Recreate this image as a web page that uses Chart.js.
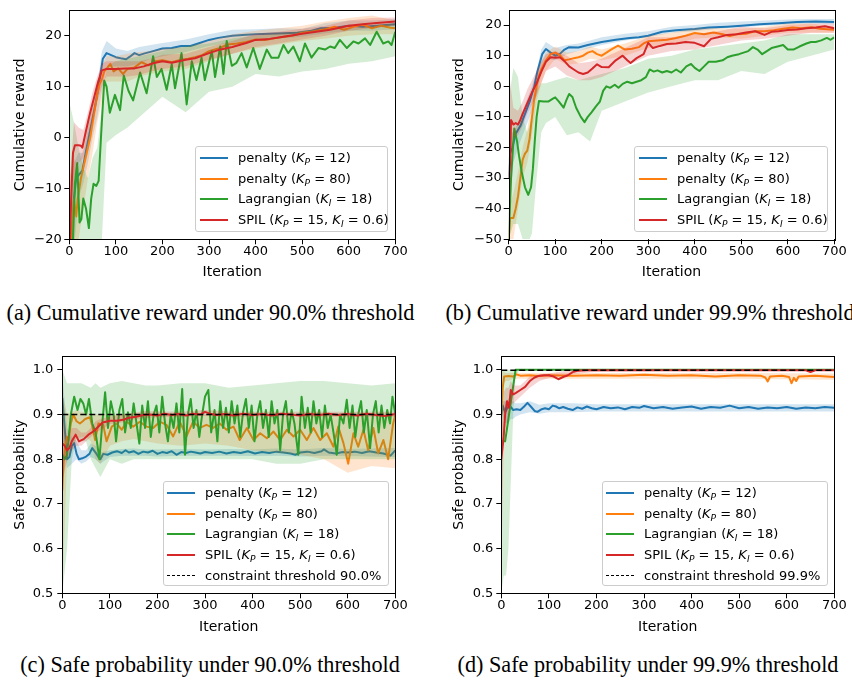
<!DOCTYPE html>
<html>
<head>
<meta charset="utf-8">
<script src="https://cdn.jsdelivr.net/npm/chart.js@4.4.1/dist/chart.umd.min.js"></script>
<style>
  body { margin: 0; background: #fff; width: 852px; height: 681px; position: relative; overflow: hidden; font-family: 'DejaVu Sans'; }
  canvas { position: absolute; }
  .legend { position: absolute; background: rgba(255,255,255,0.8); border: 1px solid #ccc; border-radius: 3px; box-sizing: border-box; font-size: 13px; color: #000; z-index: 2; }
  .legend .row { position: absolute; left: 0; right: 0; height: 20px; line-height: 20px; white-space: nowrap; }
  .legend .swatch { position: absolute; top: 9px; width: 28px; height: 0; }
  .legend .txt { position: absolute; top: 0; }
  .legend sub { font-size: 70%; vertical-align: -3px; line-height: 0; }
  .cap { position: absolute; transform: translateX(-50%); white-space: nowrap; font-family: 'Liberation Serif'; font-size: 22.2px; line-height: 1; color: #000; }
</style>
</head>
<body>
<canvas id="ca" width="420" height="290" style="left:0;top:0"></canvas>
<canvas id="cb" width="422" height="290" style="left:430px;top:0"></canvas>
<canvas id="cc" width="420" height="300" style="left:0;top:340px"></canvas>
<canvas id="cd" width="422" height="300" style="left:430px;top:340px"></canvas>
<script>
// ---- data ----
const xTicks = [0, 100, 200, 300, 400, 500, 600, 700];
const rewardTicksA = [-20, -10, 0, 10, 20];
const rewardTicksB = [-50, -40, -30, -20, -10, 0, 10, 20];
const probTicks = [0.5, 0.6, 0.7, 0.8, 0.9, 1.0];
const seriesLabels = [
  'penalty (<i>K</i><sub><i>P</i></sub> = 12)',
  'penalty (<i>K</i><sub><i>P</i></sub> = 80)',
  'Lagrangian (<i>K</i><sub><i>I</i></sub> = 18)',
  'SPIL (<i>K</i><sub><i>P</i></sub> = 15, <i>K</i><sub><i>I</i></sub> = 0.6)'
];
const thresholdLabels = ['constraint threshold 90.0%', 'constraint threshold 99.9%'];
const thresholdValues = [0.9, 0.999];
const captions = [
  '(a) Cumulative reward under 90.0% threshold',
  '(b) Cumulative reward under 99.9% threshold',
  '(c) Safe probability under 90.0% threshold',
  '(d) Safe probability under 99.9% threshold'
];

// (a) cumulative reward, 90.0%
const aBlue = [[0,-28],[5,-22],[10,-12],[15,-8],[20,-7.4],[28,-6.5],[35,-3],[45,1.5],[55,6],[63,10],[72,15.5],[80,16.6],[90,16.2],[100,15.8],[110,15.6],[122,15.4],[130,15.9],[140,16.6],[150,16.2],[160,16.5],[180,17],[200,17.5],[220,17.6],[240,18],[260,18],[280,18.6],[300,19.2],[320,19.6],[350,20],[380,20.2],[400,20.3],[430,20.4],[460,20.5],[490,20.6],[520,21],[540,21.5],[570,21.6],[600,22],[630,21.8],[660,22],[700,22.3]];
const aOrange = [[0,-22],[5,-19],[10,-12.2],[15,-15.5],[18,-12],[25,-8],[35,-4],[45,0],[52,4],[60,8.5],[65,10.5],[70,11.5],[75,13],[80,13.5],[88,14.5],[95,13],[105,13.6],[115,12.5],[125,13.5],[140,13.8],[155,14.8],[170,14.2],[185,15],[200,15.2],[220,14.8],[240,15.3],[255,15.5],[270,15.8],[285,16.2],[300,17],[320,17.5],[340,18.3],[360,18.5],[380,18.8],[400,19.3],[420,19.2],[440,19.5],[460,19.8],[480,20],[500,20.6],[520,20.8],[550,21.3],[570,21.8],[590,21.2],[610,21.8],[630,22.2],[650,21.5],[670,22],[690,21.6],[700,21.5]];
const aGreen = [[0,-28],[8,-20],[12,-9],[17,-5],[22,-16.7],[26,-16],[30,-12],[36,-14],[42,-17.8],[47,-12],[52,-9.1],[58,-9.5],[63,-8.5],[68,0],[75,11.2],[80,10],[87,4.9],[98,8.4],[109,5.4],[117,12.2],[127,9.2],[137,7.3],[152,12.8],[166,8.7],[180,16],[188,11.9],[198,13.5],[209,9.4],[220,14.4],[227,9.7],[241,16.6],[252,6.5],[263,15],[273,11.3],[284,15.7],[291,11.3],[306,17],[313,11.9],[324,17.9],[331,12.5],[338,19],[349,14.1],[359,14.7],[370,16.6],[381,13.8],[395,17.6],[409,13.5],[424,17.3],[434,15.7],[449,15.7],[460,18.2],[470,16.6],[481,17.9],[495,15],[506,18.5],[520,15.7],[535,17.6],[549,17.3],[560,17.9],[570,17.6],[581,19.2],[596,17.6],[610,18.9],[621,18.5],[635,19.5],[646,18.2],[660,20.8],[674,18.5],[685,18.9],[692,18.2],[700,20.8]];
const aRed = [[0,-25],[4,-12],[8,-3],[12,-1.5],[20,-1.5],[25,-1.6],[28,-2],[35,1],[45,5],[55,8.5],[62,11],[70,13.2],[80,13.5],[100,13.5],[120,13.6],[140,13.6],[160,14],[180,14.6],[200,15],[220,14.7],[250,15.3],[270,15.6],[300,16.6],[320,17.2],[350,17.8],[380,18.6],[400,19.2],[430,19.4],[460,19.8],[500,20.4],[530,20.8],[560,21.2],[600,22],[630,22.3],[660,22.5],[700,22.8]];
const aBandX = [0,10,20,30,40,50,60,70,80,100,125,150,175,200,250,300,350,400,450,500,550,600,650,700];
const aBlueLo = [-35,-22,-12,-9,-5,0,4,9,14,14,14,14.5,15.5,16,16.8,18,18.7,19.2,19.5,19.8,20.5,21,21,21.3];
const aBlueHi = [-15,-5,-3,-3,2,6,10,17,19,17.5,17,17.8,18.2,18.6,19.3,20.3,21.2,21.3,21.5,21.4,22.5,23,23,23.3];
const aOrangeLo = [-30,-22,-20,-14,-8,-3,3,7,11,11,11,12,12.5,13,13.5,15,16.5,17.5,18.3,19,19.5,20,20.3,20.3];
const aOrangeHi = [-8,-4,-6,-2,4,7,10,14,16,16,16.5,16.8,17,17.5,17.8,19,20.3,21,21.5,22,22.8,23.5,24,23];
const aGreenLo = [-30,-30,-30,-30,-30,-30,-28,-20,-1,0.5,2,4,6,8,5,9,10,12.5,12,13,13.5,14.5,15,16];
const aGreenHi = [7,3,-2,-6,-8,-4,-2,6,14,15,15.5,16,16.5,17,18,18.5,19.5,20,20.5,21,21.5,21.5,22,22.5];
const aRedLo = [-30,-8,-5,-4,0,3,7,10,12,12,12,12.3,13,13.5,14,15.3,16.5,17.8,18.5,19.3,20,21,21.5,22];
const aRedHi = [-10,3,2,1.5,5,9,12,14.5,15,15,15,15,15.5,16.3,16.5,17.8,19,20.4,20.8,21.4,22,23,23.5,23.6];

// (b) cumulative reward, 99.9%
const bBlue = [[0,-30],[3,-22],[8,-20],[15,-15.5],[25,-13],[35,-9],[45,-5],[55,0],[62,5],[72,10.5],[80,12.2],[90,11],[100,10],[110,10.6],[120,12],[130,12.8],[150,12.7],[170,13.5],[200,14.5],[230,15.2],[260,15.8],[280,16],[300,16.5],[330,17.8],[360,18.3],[400,18.7],[430,19.2],[470,19.5],[500,19.8],[540,20.3],[580,20.6],[620,21],[660,21.2],[700,21]];
const bOrange = [[0,-50],[3,-43],[10,-43],[15,-40],[20,-36],[25,-30],[30,-24],[35,-22],[40,-21],[45,-17],[50,-10],[55,-4],[60,0],[65,3.5],[70,5.5],[80,8.5],[90,10.5],[100,11],[110,10.2],[120,8.5],[130,8.8],[140,9.2],[150,9.5],[160,10],[170,11],[180,11.5],[190,10.5],[200,10],[210,11],[220,12],[235,13.3],[250,12],[265,12.3],[280,12.8],[290,14],[300,14.7],[320,15],[340,15.2],[360,15.8],[380,16.5],[400,17.4],[420,17],[440,17.6],[460,17],[475,16.4],[490,17],[510,17.2],[530,18],[550,18],[570,18.3],[590,18.8],[610,19.2],[630,19],[650,19.3],[670,18.8],[700,18.5]];
const bGreen = [[0,-50],[5,-30],[12,-13.8],[18,-18],[22,-22.5],[28,-28],[35,-33],[42,-35.5],[48,-33],[52,-27],[56,-18],[60,-10],[65,-4.8],[75,-5],[85,-5],[95,-4],[100,-3.6],[108,-5],[118,-7],[124,-4.5],[130,-2.5],[137,-3.5],[145,-7],[155,-10],[163,-11.7],[170,-10],[178,-8.5],[188,-6.5],[196,-5],[203,-1.5],[210,0],[218,-0.5],[228,0.5],[236,-0.5],[245,0.8],[255,1.5],[265,1],[275,1.5],[285,2],[295,3],[303,5.5],[312,4.8],[320,5.2],[330,4.5],[340,5],[350,4.5],[360,5.5],[370,4.5],[382,6.5],[392,7.3],[400,6],[410,5],[420,6.5],[430,8],[445,8],[460,8.5],[470,9.5],[480,10],[495,10.5],[505,11],[515,11.5],[525,12.8],[535,12],[545,10.5],[555,11.5],[565,12.5],[578,13],[590,13.5],[600,12],[612,12],[625,13],[640,14],[650,14.5],[660,14.5],[672,15],[684,15.8],[692,15.2],[700,16]];
const bRed = [[0,-30],[3,-25],[5,-11],[10,-12.5],[15,-12],[20,-12.5],[25,-11],[30,-9],[40,-5.5],[50,-2],[60,1],[70,4.7],[80,8],[90,9.5],[100,9.3],[110,9.5],[120,8.2],[130,6.5],[140,5.5],[150,4.5],[160,4],[170,4.5],[180,5.8],[190,7.2],[200,6.3],[215,6.2],[230,8.5],[245,10],[255,8.5],[262,7.6],[275,9.2],[290,10.5],[300,14.2],[310,12.5],[325,13.2],[340,13.8],[360,14],[380,14.5],[400,14.2],[420,13.1],[435,15.5],[450,16],[470,16.8],[490,17],[510,17.6],[530,18],[550,16.8],[565,17.8],[580,18],[600,18.4],[620,18.6],[640,19],[660,19.2],[680,19.6],[700,19]];
const bBandX = [0,10,20,30,40,50,60,70,80,100,125,150,175,200,250,300,350,400,450,500,550,600,650,700];
const bBlueLo = [-45,-25,-20,-16,-12,-8,-3,4,9,8.5,10.5,11.5,12.5,13.5,15,16,17.5,18,18.8,19.3,19.8,20.2,20.5,20.3];
const bBlueHi = [-15,-15,-12,-8,-4,0,5,12,14.5,12.5,13.5,14,15,16,17.2,18,19.5,20,20.8,21.2,21.5,21.8,22,22];
const bOrangeLo = [-55,-50,-40,-30,-25,-16,-5,1,5,9,7,7.5,9,8.5,10,12.5,13.5,15.5,16,15.5,16.5,17.5,17.5,17.5];
const bOrangeHi = [-40,-35,-28,-20,-14,-5,3,8,11,13,11,11.5,13,12,14,16.5,17.5,19,19,18.8,19.5,20.5,20.5,19.5];
const bGreenLo = [-50,-45,-45,-50,-52,-48,-30,-15,-12,-10,-16,-15,-18,-8,-5,-2,0,2,2,5,4,8,10,12];
const bGreenHi = [-5,6,3,-10,-15,-10,-1,1,1,2,3,2,3,4,6,9,10,12,13,14,15,17,17,17];
const bRedLo = [-48,-17,-16,-13,-9,-6,-3,1,5,6.5,3.5,2,2,3,6.5,10,11.5,12,13.5,15,15.5,16.5,17.5,17.5];
const bRedHi = [5,-7,-8,-5,-1,2,5,8,10.5,11.5,10,7.5,8,9,12.5,16,16,17,18,19.5,19,20,20.5,20.5];

// (c) safe probability, 90.0%
const cBlue = [[0,0.937],[5,0.87],[10,0.80],[15,0.805],[20,0.83],[25,0.836],[30,0.812],[35,0.80],[42,0.802],[50,0.806],[57,0.812],[63,0.825],[70,0.815],[76,0.805],[80,0.80],[86,0.812],[95,0.81],[105,0.815],[115,0.818],[125,0.814],[133,0.82],[140,0.815],[150,0.818],[160,0.812],[170,0.817],[180,0.815],[190,0.819],[200,0.812],[210,0.816],[220,0.814],[230,0.818],[240,0.81],[250,0.816],[260,0.814],[270,0.817],[280,0.815],[290,0.813],[300,0.816],[315,0.814],[330,0.817],[345,0.813],[360,0.816],[375,0.814],[390,0.818],[405,0.813],[420,0.816],[435,0.814],[450,0.817],[465,0.815],[480,0.813],[490,0.81],[500,0.815],[515,0.817],[530,0.814],[545,0.818],[550,0.822],[560,0.815],[575,0.813],[590,0.816],[600,0.815],[615,0.817],[630,0.814],[645,0.818],[660,0.815],[675,0.813],[690,0.808],[700,0.82]];
const cOrange = [[0,0.73],[3,0.8],[6,0.832],[10,0.85],[13,0.843],[18,0.88],[23,0.9],[30,0.885],[37,0.88],[43,0.885],[48,0.89],[58,0.894],[64,0.87],[69,0.843],[76,0.88],[86,0.877],[93,0.84],[104,0.873],[114,0.88],[125,0.866],[135,0.884],[149,0.873],[163,0.884],[177,0.873],[191,0.87],[205,0.884],[219,0.877],[233,0.851],[247,0.884],[261,0.851],[275,0.884],[289,0.87],[303,0.877],[317,0.87],[331,0.88],[345,0.866],[360,0.873],[373,0.843],[388,0.87],[402,0.843],[416,0.858],[430,0.847],[444,0.862],[458,0.843],[472,0.866],[486,0.851],[500,0.866],[514,0.843],[528,0.87],[542,0.843],[556,0.858],[570,0.828],[580,0.873],[591,0.836],[601,0.79],[612,0.858],[622,0.828],[633,0.866],[643,0.82],[654,0.87],[664,0.813],[675,0.843],[685,0.80],[695,0.877],[700,0.9]];
const cGreen = [[0,0.81],[5,0.80],[10,0.81],[18,0.9],[25,0.94],[32,0.91],[38,0.935],[44,0.925],[50,0.9],[56,0.935],[63,0.88],[70,0.86],[78,0.80],[84,0.88],[90,0.95],[96,0.87],[102,0.93],[108,0.9],[113,0.84],[120,0.91],[126,0.935],[132,0.86],[138,0.905],[144,0.87],[150,0.925],[156,0.88],[162,0.835],[168,0.92],[174,0.87],[180,0.93],[186,0.85],[192,0.9],[198,0.92],[204,0.86],[210,0.94],[216,0.88],[222,0.84],[228,0.9],[234,0.87],[240,0.925],[246,0.86],[252,0.957],[258,0.81],[264,0.9],[270,0.935],[276,0.87],[282,0.91],[288,0.85],[294,0.9],[300,0.94],[307,0.955],[313,0.86],[320,0.91],[326,0.84],[332,0.93],[338,0.87],[344,0.915],[350,0.86],[356,0.93],[362,0.88],[368,0.92],[374,0.85],[380,0.905],[386,0.935],[392,0.87],[398,0.92],[404,0.84],[410,0.9],[416,0.93],[422,0.87],[428,0.91],[434,0.85],[440,0.93],[446,0.88],[452,0.91],[458,0.82],[464,0.9],[470,0.93],[476,0.86],[482,0.91],[488,0.88],[496,0.81],[503,0.94],[510,0.87],[516,0.915],[522,0.86],[528,0.93],[534,0.88],[540,0.91],[546,0.85],[552,0.92],[558,0.87],[564,0.9],[570,0.86],[577,0.81],[584,0.9],[591,0.88],[598,0.933],[604,0.87],[610,0.92],[616,0.85],[622,0.9],[628,0.93],[634,0.86],[640,0.91],[647,0.825],[653,0.9],[659,0.93],[665,0.86],[671,0.92],[677,0.87],[683,0.91],[689,0.88],[694,0.94],[700,0.9]];
const cRed = [[0,0.835],[5,0.83],[10,0.82],[15,0.825],[20,0.84],[28,0.855],[35,0.84],[45,0.845],[55,0.855],[65,0.862],[75,0.872],[85,0.882],[100,0.886],[115,0.886],[130,0.889],[140,0.893],[155,0.895],[170,0.899],[185,0.9],[200,0.898],[215,0.902],[230,0.899],[245,0.901],[260,0.898],[275,0.902],[290,0.9],[300,0.906],[310,0.902],[325,0.899],[340,0.901],[360,0.898],[380,0.902],[400,0.899],[420,0.901],[440,0.898],[460,0.902],[480,0.9],[500,0.898],[520,0.901],[540,0.899],[560,0.902],[580,0.899],[600,0.901],[620,0.898],[640,0.902],[660,0.899],[680,0.897],[700,0.901]];
const cBandX = [0,10,20,30,40,50,60,70,80,100,125,150,175,200,250,300,350,400,450,500,550,600,650,700];
const cBlueLo = [0.85,0.78,0.79,0.8,0.79,0.795,0.805,0.8,0.79,0.805,0.808,0.808,0.808,0.806,0.808,0.808,0.808,0.807,0.808,0.806,0.808,0.807,0.806,0.805];
const cBlueHi = [0.99,0.87,0.85,0.84,0.82,0.82,0.835,0.83,0.815,0.82,0.823,0.824,0.822,0.822,0.823,0.822,0.823,0.822,0.824,0.822,0.825,0.823,0.824,0.825];
const cOrangeLo = [0.5,0.8,0.83,0.845,0.85,0.85,0.84,0.8,0.79,0.83,0.84,0.845,0.84,0.835,0.83,0.835,0.83,0.82,0.815,0.81,0.8,0.77,0.785,0.78];
const cOrangeHi = [0.95,0.9,0.905,0.91,0.905,0.905,0.9,0.9,0.9,0.9,0.9,0.9,0.9,0.9,0.9,0.9,0.9,0.895,0.895,0.895,0.9,0.9,0.9,0.9];
const cGreenLo = [0.5,0.6,0.8,0.85,0.84,0.84,0.8,0.78,0.76,0.8,0.79,0.8,0.8,0.8,0.8,0.8,0.8,0.8,0.79,0.79,0.8,0.8,0.8,0.8];
const cGreenHi = [1.0,0.97,0.97,0.97,0.97,0.965,0.96,0.97,0.96,0.97,0.975,0.97,0.965,0.965,0.97,0.97,0.96,0.965,0.97,0.975,0.975,0.97,0.965,0.97];
const cRedLo = [0.75,0.8,0.82,0.83,0.83,0.84,0.85,0.86,0.865,0.878,0.882,0.889,0.892,0.894,0.895,0.897,0.895,0.895,0.895,0.895,0.895,0.895,0.895,0.895];
const cRedHi = [0.9,0.85,0.87,0.87,0.86,0.86,0.87,0.885,0.89,0.895,0.9,0.904,0.908,0.907,0.906,0.91,0.907,0.906,0.906,0.906,0.906,0.906,0.906,0.906];

// (d) safe probability, 99.9%
const dBlue = [[0,0.9],[3,0.92],[8,0.905],[13,0.915],[18,0.92],[25,0.91],[32,0.912],[40,0.91],[48,0.918],[55,0.926],[62,0.918],[70,0.908],[76,0.906],[85,0.912],[92,0.914],[100,0.912],[108,0.92],[115,0.918],[122,0.914],[130,0.917],[140,0.913],[150,0.91],[160,0.916],[170,0.913],[180,0.918],[190,0.914],[200,0.912],[215,0.917],[230,0.914],[245,0.916],[260,0.912],[275,0.917],[290,0.915],[300,0.919],[320,0.914],[340,0.917],[360,0.913],[380,0.916],[400,0.918],[420,0.913],[440,0.917],[460,0.915],[480,0.92],[500,0.914],[520,0.917],[540,0.913],[560,0.916],[580,0.914],[600,0.917],[620,0.913],[640,0.916],[660,0.914],[680,0.917],[700,0.915]];
const dOrange = [[0,0.9],[3,0.96],[6,0.985],[15,0.986],[25,0.985],[32,0.99],[40,0.987],[60,0.988],[80,0.986],[100,0.988],[150,0.987],[200,0.988],[250,0.987],[300,0.989],[350,0.987],[400,0.988],[450,0.985],[500,0.988],[545,0.987],[555,0.983],[560,0.974],[565,0.985],[590,0.987],[605,0.984],[610,0.97],[615,0.982],[620,0.975],[625,0.985],[660,0.987],[700,0.984]];
const dGreen = [[0,0.84],[8,0.84],[30,1.0],[700,1.0]];
const dRed = [[0,0.8],[5,0.85],[8,0.9],[12,0.93],[16,0.915],[20,0.955],[25,0.945],[30,0.948],[40,0.955],[50,0.962],[60,0.975],[70,0.983],[80,0.987],[90,0.988],[100,0.988],[110,0.985],[120,0.979],[130,0.984],[140,0.988],[150,0.995],[160,0.998],[180,0.999],[200,0.999],[640,0.999],[650,0.995],[660,0.999],[700,0.999]];
const dBandX = [0,5,10,15,20,25,30,40,60,80,100,150,200,300,400,500,700];
const dBlueLo = [0.9,0.89,0.88,0.88,0.89,0.89,0.895,0.9,0.905,0.902,0.905,0.905,0.907,0.907,0.907,0.907,0.907];
const dBlueHi = [0.93,0.93,0.93,0.935,0.93,0.93,0.925,0.925,0.93,0.922,0.925,0.925,0.923,0.923,0.923,0.923,0.923];
const dOrangeLo = [0.6,0.97,0.975,0.975,0.978,0.98,0.98,0.98,0.98,0.98,0.98,0.98,0.98,0.98,0.98,0.98,0.978];
const dOrangeHi = [1,0.995,0.993,0.993,0.993,0.993,0.995,0.993,0.993,0.993,0.993,0.993,0.993,0.993,0.993,0.993,0.992];
const dGreenLo = [0.5,0.54,0.54,0.6,0.75,0.9,0.99,1,1,1,1,1,1,1,1,1,1];
const dGreenHi = [1,1,1,1,1,1,1,1,1,1,1,1,1,1,1,1,1];
const dRedLo = [0.55,0.85,0.88,0.89,0.92,0.925,0.93,0.94,0.96,0.975,0.982,0.99,0.996,0.997,0.998,0.998,0.998];
const dRedHi = [0.85,0.95,0.96,0.96,0.975,0.965,0.965,0.965,0.985,0.99,0.992,1.0,1.0,1.0,1.0,1.0,1.0];

// ---- drawing ----
const BLUE = '31,119,180', ORANGE = '255,127,14', GREEN = '44,160,44', RED = '214,39,40';
Chart.defaults.font.family = 'DejaVu Sans';
Chart.defaults.color = '#000';

function line(pts, rgb, width, dash) {
  return { data: pts.map(p => ({x: p[0], y: p[1]})), borderColor: rgb.startsWith('#') ? rgb : 'rgb(' + rgb + ')',
    borderWidth: width, borderDash: dash || [], borderJoinStyle: 'round', pointRadius: 0, fill: false, tension: 0 };
}
function band(xs, lo, hi, rgb) {
  const none = 'rgba(0,0,0,0)';
  return [
    { data: xs.map((x, i) => ({x, y: lo[i]})), borderColor: none, pointRadius: 0, fill: false },
    { data: xs.map((x, i) => ({x, y: hi[i]})), borderColor: none, pointRadius: 0, fill: '-1', backgroundColor: 'rgba(' + rgb + ',0.2)' }
  ];
}

const frame = {
  id: 'frame',
  afterDatasetsDraw(chart) {
    const a = chart.chartArea, ctx = chart.ctx;
    ctx.save();
    ctx.strokeStyle = '#000'; ctx.lineWidth = 1;
    ctx.strokeRect(Math.round(a.left) + 0.5, Math.round(a.top) + 0.5, Math.round(a.right - a.left), Math.round(a.bottom - a.top));
    ctx.restore();
  }
};

function panel(id, p) {
  // draw order bottom -> top; Chart.js draws lower "order" on top
  const ds = p.datasets;
  ds.forEach((d, i) => { d.order = ds.length - i; });
  new Chart(document.getElementById(id), {
    type: 'line',
    data: { datasets: ds },
    plugins: [frame],
    options: {
      responsive: false, animation: false, events: [],
      layout: { padding: { top: p.top, right: p.right, left: 0, bottom: 0 } },
      plugins: { legend: { display: false }, tooltip: { enabled: false } },
      scales: {
        x: {
          type: 'linear', min: 0, max: 700,
          afterBuildTicks: s => { s.ticks = xTicks.map(v => ({value: v})); },
          afterFit: s => { s.height = p.xh; },
          border: { display: false },
          grid: { drawOnChartArea: false, drawTicks: true, tickLength: 5, tickColor: '#000', tickWidth: 1 },
          ticks: { font: { size: 13 }, padding: 0, maxRotation: 0, callback: v => String(v) },
          title: { display: true, text: 'Iteration', font: { size: 14 }, padding: { top: 0, bottom: p.xtp } }
        },
        y: {
          type: 'linear', min: p.ymin, max: p.ymax,
          afterBuildTicks: s => { s.ticks = p.yticks.map(v => ({value: v})); },
          afterFit: s => { s.width = p.yw; },
          border: { display: false },
          grid: { drawOnChartArea: false, drawTicks: true, tickLength: 5, tickColor: '#000', tickWidth: 1 },
          ticks: { font: { size: 13 }, padding: p.ytp, callback: p.fmt },
          title: { display: true, text: p.ytitle, font: { size: 14 }, padding: { top: p.yttp, bottom: 0 } }
        }
      }
    }
  });
}

const fmtReward = v => (v < 0 ? '\u2212' + Math.abs(v) : String(v));
const fmtProb = v => v.toFixed(1);

panel('ca', {
  datasets: [
    ...band(aBandX, aBlueLo, aBlueHi, BLUE), line(aBlue, BLUE, 2),
    ...band(aBandX, aOrangeLo, aOrangeHi, ORANGE), line(aOrange, ORANGE, 2),
    ...band(aBandX, aGreenLo, aGreenHi, GREEN), line(aGreen, GREEN, 2),
    ...band(aBandX, aRedLo, aRedHi, RED), line(aRed, RED, 2)
  ],
  ymin: -20, ymax: 25, yticks: rewardTicksA, fmt: fmtReward, ytitle: 'Cumulative reward',
  top: 3, right: 24.7, yw: 69.3, xh: 50.7, xtp: 8.9, yttp: 11.6, ytp: 2.6
});
panel('cb', {
  datasets: [
    ...band(bBandX, bBlueLo, bBlueHi, BLUE), line(bBlue, BLUE, 2),
    ...band(bBandX, bOrangeLo, bOrangeHi, ORANGE), line(bOrange, ORANGE, 2),
    ...band(bBandX, bGreenLo, bGreenHi, GREEN), line(bGreen, GREEN, 2),
    ...band(bBandX, bRedLo, bRedHi, RED), line(bRed, RED, 2)
  ],
  ymin: -50, ymax: 25, yticks: rewardTicksB, fmt: fmtReward, ytitle: 'Cumulative reward',
  top: 2.7, right: 17.7, yw: 78.7, xh: 50.7, xtp: 8.9, yttp: 20.9, ytp: 2
});
panel('cc', {
  datasets: [
    ...band(cBandX, cBlueLo, cBlueHi, BLUE), line(cBlue, BLUE, 2),
    ...band(cBandX, cOrangeLo, cOrangeHi, ORANGE), line(cOrange, ORANGE, 2),
    ...band(cBandX, cGreenLo, cGreenHi, GREEN), line(cGreen, GREEN, 2),
    ...band(cBandX, cRedLo, cRedHi, RED), line(cRed, RED, 2),
    line([[0, thresholdValues[0]], [700, thresholdValues[0]]], '#000', 1.5, [6, 3])
  ],
  ymin: 0.5, ymax: 1.031, yticks: probTicks, fmt: fmtProb, ytitle: 'Safe probability',
  top: 16, right: 24.7, yw: 62.3, xh: 46.7, xtp: 4.6, yttp: 12.3, ytp: 4
});
panel('cd', {
  datasets: [
    ...band(dBandX, dBlueLo, dBlueHi, BLUE), line(dBlue, BLUE, 2),
    ...band(dBandX, dOrangeLo, dOrangeHi, ORANGE), line(dOrange, ORANGE, 2),
    ...band(dBandX, dGreenLo, dGreenHi, GREEN), line(dGreen, GREEN, 2),
    ...band(dBandX, dRedLo, dRedHi, RED), line(dRed, RED, 2),
    line([[0, thresholdValues[1]], [700, thresholdValues[1]]], '#000', 1.5, [6, 3])
  ],
  ymin: 0.5, ymax: 1.031, yticks: probTicks, fmt: fmtProb, ytitle: 'Safe probability',
  top: 16, right: 17.7, yw: 71.3, xh: 46.7, xtp: 4.6, yttp: 20.9, ytp: 3
});

// ---- legends (HTML text) ----
function legend(box, threshLabel) {
  const el = document.createElement('div');
  el.className = 'legend';
  el.style.left = box.left + 'px'; el.style.top = box.top + 'px';
  el.style.width = box.w + 'px'; el.style.height = box.h + 'px';
  const colors = [BLUE, ORANGE, GREEN, RED];
  const rows = seriesLabels.map((t, i) => ({ text: t, style: '2px solid rgb(' + colors[i] + ')' }));
  if (threshLabel) rows.push({ text: threshLabel, style: '1.5px dashed #000' });
  rows.forEach((r, i) => {
    const row = document.createElement('div');
    row.className = 'row';
    row.style.top = (box.first + i * box.gap - 10) + 'px';
    row.innerHTML = '<div class="swatch" style="left:' + box.sx + 'px;border-top:' + r.style + '"></div>' +
      '<div class="txt" style="left:' + box.tx + 'px">' + r.text + '</div>';
    el.appendChild(row);
  });
  document.body.appendChild(el);
}
legend({ left: 195, top: 146, w: 193, h: 86, first: 11.2, gap: 20.6, sx: 4, tx: 42 });
legend({ left: 634, top: 146, w: 194, h: 86, first: 11.2, gap: 20.6, sx: 4, tx: 42 });
legend({ left: 163, top: 481, w: 226, h: 105, first: 11.2, gap: 20.6, sx: 3, tx: 41 }, thresholdLabels[0]);
legend({ left: 602, top: 481, w: 226, h: 105, first: 11.2, gap: 20.6, sx: 3, tx: 41 }, thresholdLabels[1]);

// ---- captions ----
[[210.5, 302], [650, 302], [210, 654], [648, 654]].forEach((pos, i) => {
  const c = document.createElement('div');
  c.className = 'cap';
  c.style.left = pos[0] + 'px'; c.style.top = pos[1] + 'px';
  c.textContent = captions[i];
  document.body.appendChild(c);
});
</script>
</body>
</html>
